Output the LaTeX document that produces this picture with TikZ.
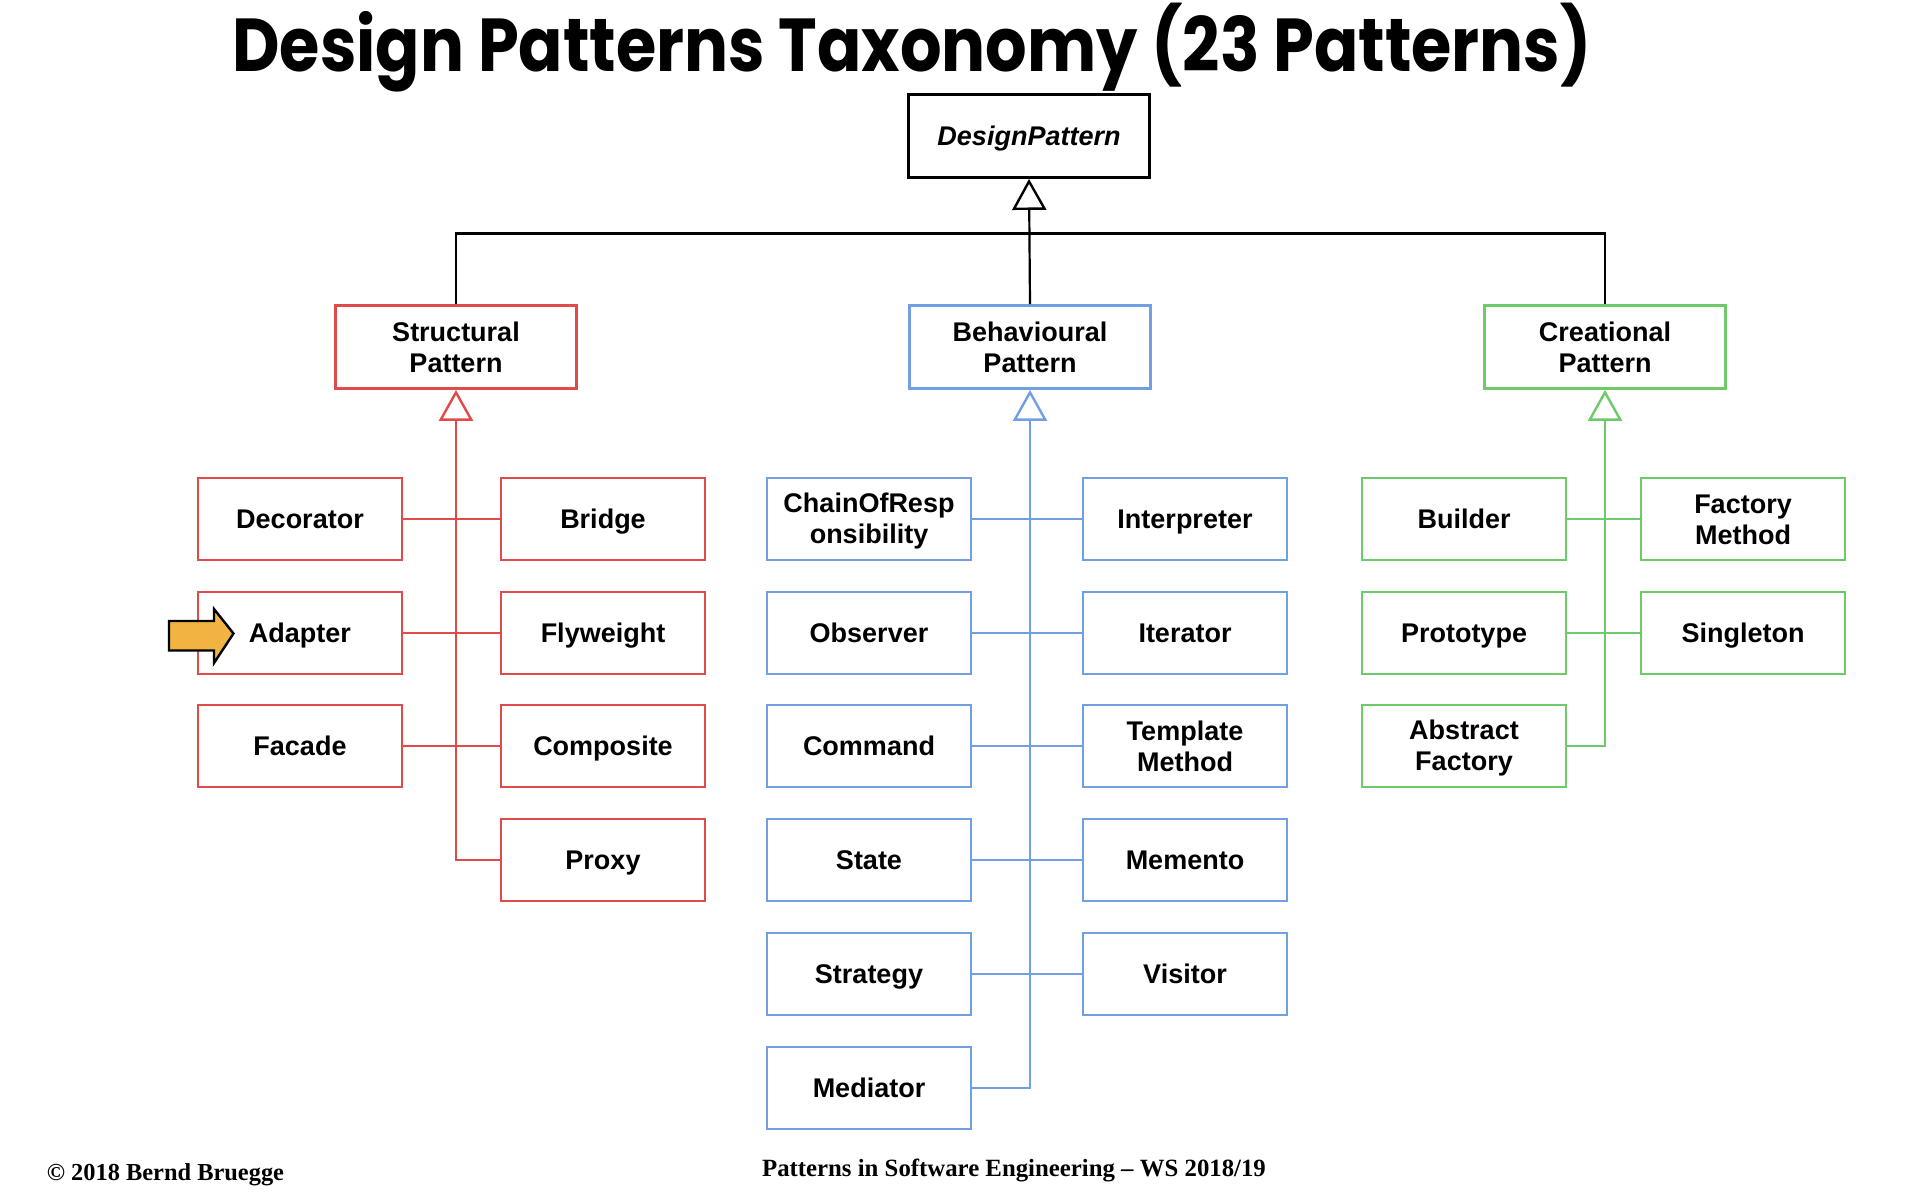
\documentclass[tikz,border=0pt]{standalone}
\usepackage{fontspec}
\setmainfont{Liberation Sans}
\newfontfamily\titlefont{Poppins}
\newfontfamily\footfont{Liberation Serif}
\usetikzlibrary{arrows.meta}
\definecolor{sred}{HTML}{E04A4A}
\definecolor{bblue}{HTML}{70A0E2}
\definecolor{cgreen}{HTML}{6CCB68}
\definecolor{arrowfill}{HTML}{F2B440}
\newcommand\bs{\rule[-2.4pt]{0pt}{14.4pt}}
\begin{document}
\begin{tikzpicture}[x=0.5pt,y=-0.5pt,
  box/.style={draw, line width=1.4pt, minimum width=102pt, minimum height=41pt, inner sep=0pt, align=center, font=\fontsize{13.5}{15.5}\selectfont\bfseries},
  parent/.style={box, minimum width=120.5pt, minimum height=41.5pt},
  sbox/.style={box, draw=sred},
  bbox/.style={box, draw=bblue},
  cbox/.style={box, draw=cgreen},
  link/.style={line width=1.1pt},
  inherit/.style={line width=1.1pt, -{Triangle[open, length=15.5pt, width=17pt, line width=1.2pt]}},
]
\useasboundingbox (0,0) rectangle (1918,1202);

% title
\node[anchor=base, inner sep=0pt, font=\titlefont\bfseries\fontsize{37.5}{40}\selectfont] (title) at (912,72) {\scalebox{0.871}[1]{Design Patterns Taxonomy (23 Patterns)}};

% top
\node[parent, draw=black] (dp) at (1029,136) {\itshape DesignPattern\bs};
\node[parent, draw=sred] (str) at (456,347) {Structural\bs\\Pattern\bs};
\node[parent, draw=bblue] (beh) at (1030,347) {Behavioural\bs\\Pattern\bs};
\node[parent, draw=cgreen] (cre) at (1605,347) {Creational\bs\\Pattern\bs};

\coordinate (bar) at (1030,233.5);
\draw[inherit] (beh.north) -- (dp.south);
\draw[link] (str.north) |- (bar) -| (cre.north);

% structural
\node[sbox] (dec) at (300,519) {Decorator\bs};
\node[sbox] (bri) at (603,519) {Bridge\bs};
\node[sbox] (ada) at (300,633) {Adapter\bs};
\node[sbox] (fly) at (603,633) {Flyweight\bs};
\node[sbox] (fac) at (300,746) {Facade\bs};
\node[sbox] (com) at (603,746) {Composite\bs};
\node[sbox] (pro) at (603,860) {Proxy\bs};
\begin{scope}[sred]
\draw[inherit] (pro.west) -| (str.south);
\draw[link] (dec.east) -- (bri.west);
\draw[link] (ada.east) -- (fly.west);
\draw[link] (fac.east) -- (com.west);
\end{scope}

% behavioural
\node[bbox] (cha) at (869,519) {ChainOfResp\bs\\onsibility\bs};
\node[bbox] (int) at (1185,519) {Interpreter\bs};
\node[bbox] (obs) at (869,633) {Observer\bs};
\node[bbox] (ite) at (1185,633) {Iterator\bs};
\node[bbox] (cmd) at (869,746) {Command\bs};
\node[bbox] (tem) at (1185,746) {Template\bs\\Method\bs};
\node[bbox] (sta) at (869,860) {State\bs};
\node[bbox] (mem) at (1185,860) {Memento\bs};
\node[bbox] (stg) at (869,974) {Strategy\bs};
\node[bbox] (vis) at (1185,974) {Visitor\bs};
\node[bbox] (med) at (869,1088) {Mediator\bs};
\begin{scope}[bblue]
\draw[inherit] (med.east) -| (beh.south);
\draw[link] (cha.east) -- (int.west);
\draw[link] (obs.east) -- (ite.west);
\draw[link] (cmd.east) -- (tem.west);
\draw[link] (sta.east) -- (mem.west);
\draw[link] (stg.east) -- (vis.west);
\end{scope}

% creational
\node[cbox] (bui) at (1464,519) {Builder\bs};
\node[cbox] (fme) at (1743,519) {Factory\bs\\Method\bs};
\node[cbox] (prt) at (1464,633) {Prototype\bs};
\node[cbox] (sin) at (1743,633) {Singleton\bs};
\node[cbox] (abs) at (1464,746) {Abstract\bs\\Factory\bs};
\begin{scope}[cgreen]
\draw[inherit] (abs.east) -| (cre.south);
\draw[link] (bui.east) -- (fme.west);
\draw[link] (prt.east) -- (sin.west);
\end{scope}

% yellow pointer arrow
\draw[fill=arrowfill, line width=1.2pt, line join=miter]
  (169,621) -- (214,621) -- (214,609) -- (233.5,633.5) -- (214,663) -- (214,650.5) -- (169,650.5) -- cycle;

% footer
\node[anchor=base west, inner sep=0pt, font=\footfont\bfseries\fontsize{12.2}{14}\selectfont] (copy) at (46.5,1180) {© 2018 Bernd Bruegge};
\node[anchor=base, inner sep=0pt, font=\footfont\bfseries\fontsize{12.4}{14}\selectfont] (course) at (1014,1176) {Patterns in Software Engineering – WS 2018/19};
\end{tikzpicture}
\end{document}
